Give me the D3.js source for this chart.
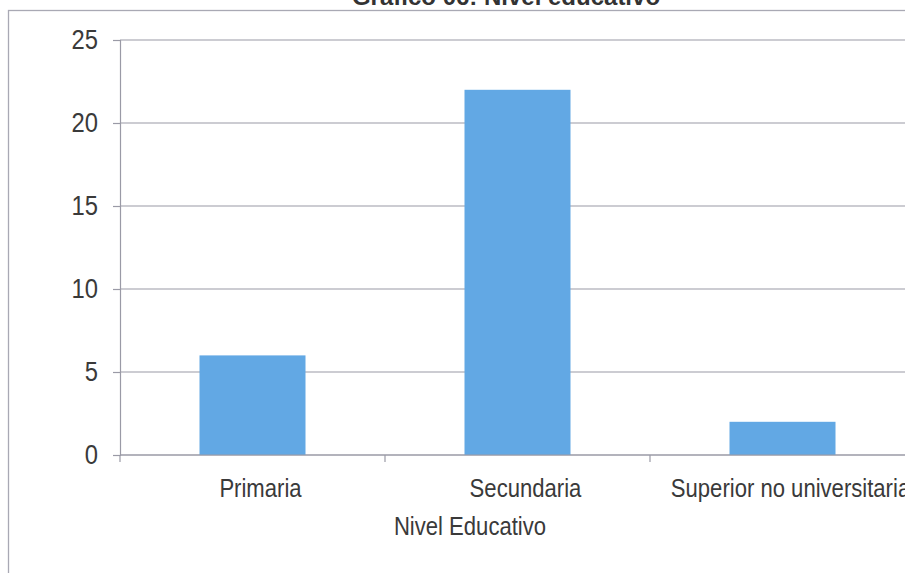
<!DOCTYPE html>
<html>
<head>
<meta charset="utf-8">
<script src="https://cdn.jsdelivr.net/npm/d3@7"></script>
<style>
  html, body { margin: 0; padding: 0; background: #fff; }
  svg { display: block; }
  text { font-family: "Liberation Sans", Arial, sans-serif; fill: #3a3a3a; }
</style>
</head>
<body>
<svg id="chart" width="905" height="573"></svg>
<script>
// Nivel educativo: frecuencia por categoría
const categories = ["Primaria", "Secundaria", "Superior no universitaria"];
const values = [6, 22, 2];
const yTicks = [0, 5, 10, 15, 20, 25];
const chartTitle = "Gráfico 06: Nivel educativo";
const xTitle = "Nivel Educativo";

const svg = d3.select("#chart");
const margin = { left: 120, right: -10, top: 40, bottom: 118 };
const W = 905, H = 573;
const plotW = W - margin.left - margin.right;
const plotH = H - margin.top - margin.bottom;
const narrow = 0.85; // horizontal squeeze for the condensed lettering

// scale a text horizontally around its anchor x
const squeeze = (cx) => `translate(${cx},0) scale(${narrow},1) translate(${-cx},0)`;

// outer chart frame
svg.append("rect")
  .attr("x", 8.5).attr("y", 10.5)
  .attr("width", 930).attr("height", 600)
  .attr("fill", "none").attr("stroke", "#a9a9b4").attr("stroke-width", 1.3);

// title (its upper part runs off the top edge)
svg.append("text")
  .attr("x", 506).attr("y", 5)
  .attr("text-anchor", "middle")
  .attr("font-size", 24).attr("font-weight", "bold")
  .style("fill", "#333")
  .text(chartTitle);

const g = svg.append("g").attr("transform", `translate(${margin.left},${margin.top})`);

const x = d3.scaleBand().domain(categories).range([0, plotW]).paddingInner(0.6).paddingOuter(0.3);
const y = d3.scaleLinear().domain([0, 25]).range([plotH, 0]);

// horizontal gridlines
g.append("g").selectAll("line").data(yTicks).join("line")
  .attr("x1", 0).attr("x2", plotW)
  .attr("y1", d => y(d)).attr("y2", d => y(d))
  .attr("stroke", "#9a9aa6").attr("stroke-width", 1.2);

// bars
g.append("g").selectAll("rect").data(categories).join("rect")
  .attr("x", d => x(d))
  .attr("y", (d, i) => y(values[i]))
  .attr("width", x.bandwidth())
  .attr("height", (d, i) => y(0) - y(values[i]))
  .attr("fill", "#62a8e4");

// y axis
const yAxis = g.append("g")
  .call(d3.axisLeft(y).tickValues(yTicks).tickSize(7).tickPadding(15));
yAxis.select(".domain").attr("stroke", "#9a9aa6").attr("stroke-width", 1.2);
yAxis.selectAll(".tick line").attr("stroke", "#9a9aa6").attr("stroke-width", 1.2);
yAxis.selectAll(".tick text")
  .attr("font-size", 28)
  .attr("transform", squeeze(-22))
  .style("font-family", "'Liberation Sans', Arial, sans-serif")
  .style("fill", "#3a3a3a");

// x axis: ticks at category boundaries
const step = x.step();
const xAxisG = g.append("g").attr("transform", `translate(0,${plotH})`);
xAxisG.append("line").attr("x1", 0).attr("x2", plotW)
  .attr("stroke", "#9a9aa6").attr("stroke-width", 1.2);
xAxisG.selectAll("line.tk").data(d3.range(categories.length + 1)).join("line")
  .attr("class", "tk")
  .attr("x1", i => i * step).attr("x2", i => i * step)
  .attr("y1", 0).attr("y2", 7)
  .attr("stroke", "#9a9aa6").attr("stroke-width", 1.2);
const labelX = d => x(d) + x.bandwidth() / 2 + 8;
xAxisG.selectAll("text").data(categories).join("text")
  .attr("x", labelX)
  .attr("y", 42)
  .attr("text-anchor", "middle")
  .attr("font-size", 26)
  .attr("transform", d => squeeze(labelX(d)))
  .text(d => d);

// x axis title
svg.append("text")
  .attr("x", 470).attr("y", 535)
  .attr("text-anchor", "middle")
  .attr("font-size", 26)
  .attr("transform", squeeze(470))
  .text(xTitle);
</script>
</body>
</html>
